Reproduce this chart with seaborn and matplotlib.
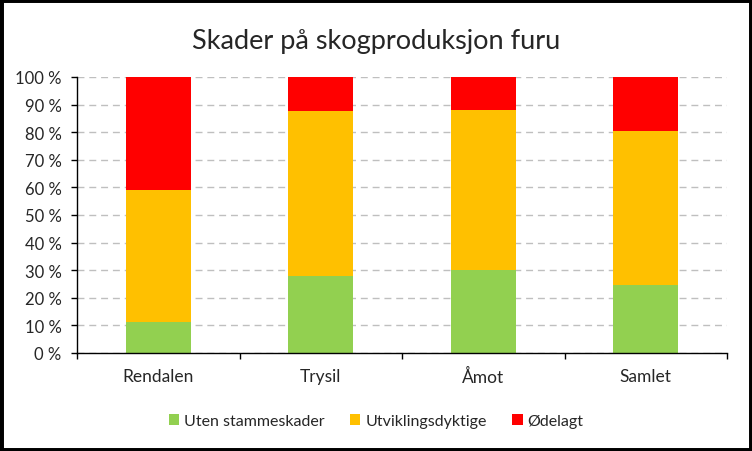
import numpy as np
import pandas as pd
import matplotlib
matplotlib.use("Agg")
import matplotlib.pyplot as plt
import seaborn as sns
from matplotlib.patches import Rectangle, Patch
from matplotlib.ticker import FuncFormatter

# data (share of trees, per area)
steder = ["Rendalen", "Trysil", "Åmot", "Samlet"]
uten_skader = [11.1, 27.8, 30.2, 24.6]
utviklingsdyktige = [47.9, 59.8, 57.8, 55.9]
odelagt = [41.0, 12.4, 12.0, 19.5]
serier = ["Uten stammeskader", "Utviklingsdyktige", "Ødelagt"]
farger = ["#92D050", "#FFC000", "#FF0000"]

sns.set_style("white")
plt.rcParams["font.family"] = ["Lato", "DejaVu Sans"]

df = pd.DataFrame({"sted": steder, serier[0]: uten_skader,
                   serier[1]: utviklingsdyktige, serier[2]: odelagt})
# cumulative tops for stacking
cum = df[serier].cumsum(axis=1)

fig = plt.figure(figsize=(7.52, 4.52), dpi=100)
ax = fig.add_axes([77 / 752, 1 - 354 / 452, 650 / 752, 276 / 452])

# draw the tallest layer first so the lower ones cover it
for s, c in zip(serier[::-1], farger[::-1]):
    sns.barplot(x=df["sted"], y=cum[s], color=c, width=0.4, ax=ax,
                saturation=1, linewidth=0)

ax.set_ylim(0, 100)
ax.set_xlim(-0.5, 3.5)
ax.set_yticks(np.arange(0, 101, 10))
ax.yaxis.set_major_formatter(FuncFormatter(lambda v, p: f"{int(v)}\u00a0%"))
ax.set_xlabel("")
ax.set_ylabel("")
ax.set_axisbelow(True)
ax.yaxis.grid(True, color="#BFBFBF", linestyle=(0, (5, 3.5)), linewidth=1)
for sp in ["top", "right"]:
    ax.spines[sp].set_visible(False)
for sp in ["left", "bottom"]:
    ax.spines[sp].set_color("black")
    ax.spines[sp].set_linewidth(1)

# category ticks at boundaries, labels centred
ax.set_xticks([-0.5, 0.5, 1.5, 2.5, 3.5])
ax.set_xticklabels([])
ax.set_xticks(range(4), minor=True)
ax.set_xticklabels(steder, minor=True, fontsize=12.5)
ax.tick_params(axis="x", which="major", direction="out", length=4, width=1, color="black", bottom=True)
ax.tick_params(axis="x", which="minor", length=0, pad=11)
ax.tick_params(axis="y", direction="out", length=4, width=1, color="black", left=True, labelsize=12, pad=7)

fig.text(0.5, 1 - 42 / 452, "Skader på skogproduksjon furu", ha="center", va="center", fontsize=19.5)

handles = [Patch(facecolor=c, edgecolor="none", label=s) for s, c in zip(serier, farger)]
fig.legend(handles=handles, loc="center", bbox_to_anchor=(0.5, 1 - 422 / 452), ncol=3,
           frameon=False, fontsize=11.5, handlelength=0.65, handleheight=0.65,
           handletextpad=0.3, columnspacing=1.6)

fig.patches.append(Rectangle((0, 0), 1, 1, transform=fig.transFigure, fill=False,
                             edgecolor="black", linewidth=5, zorder=10))

fig.savefig("out.png", dpi=100)
